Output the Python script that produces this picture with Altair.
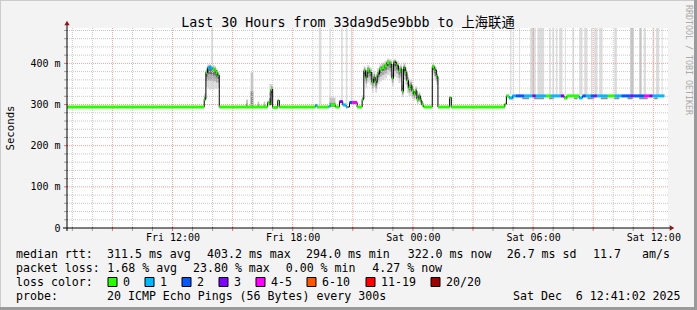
import altair as alt
import pandas as pd

# ---------------- data ----------------
med_time = [
    "2025-12-05T06:44", "2025-12-05T13:35", "2025-12-05T13:40", "2025-12-05T13:45", "2025-12-05T13:50",
    "2025-12-05T13:55", "2025-12-05T14:00", "2025-12-05T14:05", "2025-12-05T14:10", "2025-12-05T14:15",
    "2025-12-05T14:20", "2025-12-05T16:45", "2025-12-05T16:50", "2025-12-05T16:55", "2025-12-05T17:00",
    "2025-12-05T17:15", "2025-12-05T17:20", "2025-12-05T19:08", "2025-12-05T19:13", "2025-12-05T19:48",
    "2025-12-05T19:53", "2025-12-05T20:08", "2025-12-05T20:20", "2025-12-05T20:30", "2025-12-05T20:40",
    "2025-12-05T20:50", "2025-12-05T20:58", "2025-12-05T21:13", "2025-12-05T21:28", "2025-12-05T21:33",
    "2025-12-05T21:38", "2025-12-05T21:43", "2025-12-05T21:50", "2025-12-05T21:57", "2025-12-05T22:02",
    "2025-12-05T22:07", "2025-12-05T22:13", "2025-12-05T22:20", "2025-12-05T22:27", "2025-12-05T22:35",
    "2025-12-05T22:42", "2025-12-05T22:50", "2025-12-05T22:57", "2025-12-05T23:02", "2025-12-05T23:10",
    "2025-12-05T23:17", "2025-12-05T23:22", "2025-12-05T23:27", "2025-12-05T23:32", "2025-12-05T23:37",
    "2025-12-05T23:42", "2025-12-05T23:47", "2025-12-05T23:52", "2025-12-05T23:57", "2025-12-06T00:02",
    "2025-12-06T00:07", "2025-12-06T00:12", "2025-12-06T00:17", "2025-12-06T00:22", "2025-12-06T00:27",
    "2025-12-06T00:32", "2025-12-06T00:58", "2025-12-06T01:04", "2025-12-06T01:10", "2025-12-06T01:15",
    "2025-12-06T01:50", "2025-12-06T01:55", "2025-12-06T04:35", "2025-12-06T04:40", "2025-12-06T04:48",
    "2025-12-06T04:58", "2025-12-06T05:08", "2025-12-06T05:33", "2025-12-06T05:58", "2025-12-06T06:08",
    "2025-12-06T06:38", "2025-12-06T06:53", "2025-12-06T07:23", "2025-12-06T07:33", "2025-12-06T07:41",
    "2025-12-06T08:18", "2025-12-06T08:28", "2025-12-06T08:38", "2025-12-06T08:53", "2025-12-06T09:03",
    "2025-12-06T09:11", "2025-12-06T09:43", "2025-12-06T10:05", "2025-12-06T10:25", "2025-12-06T10:53",
    "2025-12-06T11:01", "2025-12-06T11:33", "2025-12-06T11:48", "2025-12-06T11:58",
]
med_end = "2025-12-06T12:33"
med_value = [
    294, 313, 378, 389, 391, 388, 386, 384, 378, 371,
    294, 305, 300, 337, 293, 310, 294, 298, 294, 296,
    299, 294, 307, 299, 294, 305, 305, 294, 313, 382,
    366, 384, 378, 354, 366, 354, 374, 386, 390, 394,
    402, 398, 364, 403, 394, 382, 386, 333, 390, 378,
    358, 341, 346, 333, 325, 333, 313, 321, 309, 299,
    294, 392, 384, 368, 294, 317, 294, 301, 321, 316,
    321, 321, 321, 321, 321, 321, 321, 321, 316, 321,
    316, 321, 321, 321, 321, 321, 321, 321, 321, 321,
    321, 321, 321, 321,
]
med_loss = [
    0, 0, 0, 1, 1, 1, 0, 0, 0, 0,
    0, 0, 0, 0, 0, 0, 0, 1, 0, 1,
    0, 0, 3, 1, 1, 2, 4, 0, 0, 0,
    0, 0, 0, 0, 0, 0, 0, 0, 0, 0,
    0, 0, 0, 0, 0, 0, 0, 0, 0, 0,
    0, 0, 0, 0, 0, 0, 0, 0, 0, 0,
    0, 0, 0, 0, 0, 0, 0, 0, 0, 1,
    1, 2, 1, 3, 1, 0, 1, 3, 0, 0,
    1, 2, 1, 2, 3, 1, 0, 1, 2, 3,
    2, 4, 3, 1,
]
# smoke spread below / above the median (ms)
smoke_dn = [
    0, 5, 35, 50, 55, 50, 50, 45, 40, 30,
    0, 0, 0, 30, 0, 0, 0, 0, 0, 0,
    0, 0, 0, 0, 0, 0, 0, 0, 5, 25,
    25, 30, 30, 25, 25, 25, 25, 30, 30, 30,
    30, 30, 20, 35, 30, 30, 30, 15, 30, 30,
    30, 20, 25, 20, 15, 20, 12, 15, 10, 5,
    0, 20, 25, 20, 0, 0, 0, 0, 0, 0,
    0, 0, 0, 0, 0, 0, 0, 0, 0, 0,
    0, 0, 0, 0, 0, 0, 0, 0, 0, 0,
    0, 0, 0, 0,
]
smoke_up = [
    0, 15, 12, 9, 7, 8, 10, 10, 10, 10,
    0, 5, 50, 13, 0, 0, 0, 0, 0, 0,
    0, 0, 0, 0, 0, 0, 0, 0, 10, 12,
    15, 12, 12, 15, 15, 15, 15, 12, 12, 12,
    10, 12, 20, 8, 12, 12, 12, 25, 12, 12,
    15, 15, 15, 15, 12, 12, 12, 10, 10, 8,
    0, 8, 10, 10, 0, 0, 0, 0, 0, 0,
    0, 0, 0, 0, 0, 0, 0, 0, 0, 0,
    0, 0, 0, 0, 0, 0, 0, 0, 0, 0,
    0, 0, 0, 0,
]

# isolated smoke patches
blob_start = ["2025-12-05T15:40", "2025-12-05T15:54", "2025-12-05T16:15", "2025-12-05T16:33", "2025-12-05T19:50",
              "2025-12-06T04:53", "2025-12-06T05:28", "2025-12-06T06:03", "2025-12-06T06:48", "2025-12-06T07:33",
              "2025-12-06T08:03", "2025-12-06T08:43", "2025-12-06T09:23", "2025-12-06T10:03", "2025-12-06T10:43",
              "2025-12-06T11:18", "2025-12-06T12:03"]
blob_end = ["2025-12-05T15:46", "2025-12-05T16:02", "2025-12-05T16:20", "2025-12-05T16:38", "2025-12-05T20:08",
            "2025-12-06T05:03", "2025-12-06T05:48", "2025-12-06T06:33", "2025-12-06T07:03", "2025-12-06T07:43",
            "2025-12-06T08:13", "2025-12-06T09:03", "2025-12-06T09:43", "2025-12-06T10:18", "2025-12-06T10:58",
            "2025-12-06T11:43", "2025-12-06T12:13"]
blob_lo = [294, 294, 294, 294, 294, 313, 313, 313, 313, 313, 313, 313, 313, 313, 313, 313, 313]
blob_hi = [312, 378, 307, 307, 317, 321, 321, 321, 321, 321, 321, 321, 321, 321, 321, 321, 321]

# columns of smoke running off the top of the graph
spike_start = ["2025-12-05T13:56", "2025-12-05T19:18", "2025-12-05T19:50", "2025-12-05T20:25", "2025-12-05T20:39",
               "2025-12-05T20:54", "2025-12-06T04:51", "2025-12-06T05:01", "2025-12-06T05:18", "2025-12-06T05:51",
               "2025-12-06T05:58", "2025-12-06T06:03", "2025-12-06T06:13", "2025-12-06T06:48", "2025-12-06T06:58",
               "2025-12-06T07:08", "2025-12-06T07:18", "2025-12-06T07:35", "2025-12-06T07:58", "2025-12-06T08:18",
               "2025-12-06T08:33", "2025-12-06T08:53", "2025-12-06T09:03", "2025-12-06T09:18", "2025-12-06T10:03",
               "2025-12-06T10:51", "2025-12-06T11:18", "2025-12-06T11:31", "2025-12-06T11:58", "2025-12-06T12:08",
               "2025-12-06T12:25"]
spike_end = ["2025-12-05T14:01", "2025-12-05T19:26", "2025-12-05T19:54", "2025-12-05T20:30", "2025-12-05T20:44",
             "2025-12-05T20:58", "2025-12-06T04:55", "2025-12-06T05:03", "2025-12-06T05:21", "2025-12-06T05:58",
             "2025-12-06T06:03", "2025-12-06T06:08", "2025-12-06T06:33", "2025-12-06T06:53", "2025-12-06T07:03",
             "2025-12-06T07:13", "2025-12-06T07:28", "2025-12-06T07:38", "2025-12-06T08:03", "2025-12-06T08:28",
             "2025-12-06T08:43", "2025-12-06T08:58", "2025-12-06T09:13", "2025-12-06T09:28", "2025-12-06T10:11",
             "2025-12-06T11:01", "2025-12-06T11:25", "2025-12-06T11:38", "2025-12-06T12:03", "2025-12-06T12:18",
             "2025-12-06T12:28"]
spike_base = [398, 300, 300, 305, 300, 305] + [323] * 25
spike_shade = [1, 1, 1, 1, 1, 1, 1, 1, 1, 1,
               2, 1, 1, 1, 1, 1, 1, 1, 1, 1,
               1, 1, 1, 1, 1, 2, 2, 1, 1, 1, 1]

loss_labels = ["0", "1", "2", "3", "4-5", "6-10", "11-19", "20/20"]
loss_colors = ["#26ff00", "#00b8ff", "#0059ff", "#7e00ff", "#ff00ff", "#ff5500", "#ff0000", "#a10000"]

y_ticks = [0, 100, 200, 300, 400]
x_ticks = ["2025-12-05T12:00", "2025-12-05T18:00", "2025-12-06T00:00", "2025-12-06T06:00", "2025-12-06T12:00"]
x_start, x_stop = "2025-12-05T06:44", "2025-12-06T12:44"
y_top = 486

title_text = "Last 30 Hours from 33da9d5e9bbb to 上海联通"
y_title = "Seconds"
side_text = "RRDTOOL / TOBI OETIKER"
row1 = ["median rtt:", "311.5 ms avg", "403.2 ms max", "294.0 ms min", "322.0 ms now", "26.7 ms sd", "11.7", "am/s"]
row2 = ["packet loss:", "1.68 % avg", "23.80 % max", "0.00 % min", "4.27 % now"]
row3 = ["loss color:"]
row4 = ["probe:", "20 ICMP Echo Pings (56 Bytes) every 300s", "Sat Dec  6 12:41:02 2025"]

# ---------------- layout / style ----------------
W, H = 601, 200
OX, OY = 67, 28            # plot origin on the canvas
MONO = "DejaVu Sans Mono, Noto Sans CJK SC, monospace"
FS = 11.6


def dt(s):
    t = pd.Timestamp(s)
    return alt.DateTime(year=t.year, month=t.month, date=t.day, hours=t.hour, minutes=t.minute)


xs = alt.Scale(domain=[dt(x_start), dt(x_stop)])
ys = alt.Scale(domain=[0, y_top], nice=False, zero=False)

x_axis = alt.Axis(values=[dt(s) for s in x_ticks], format="%a %H:%M", labelFont=MONO, labelFontSize=10,
                  labelColor="black", tickSize=0, domain=False, grid=False, title=None, labelPadding=4,
                  labelFlush=False, labelOverlap=False)
y_axis = alt.Axis(values=y_ticks, labelExpr="datum.value == 0 ? '0\u00a0\u00a0' : datum.value + '\u00a0m'",
                  labelFont=MONO, labelFontSize=10, labelColor="black", tickSize=0, domain=False, grid=False,
                  title=None, labelPadding=7, labelBaseline="middle")


def X(f):
    return alt.X(f"{f}:T", scale=xs, axis=x_axis)


def Y(f):
    return alt.Y(f"{f}:Q", scale=ys, axis=y_axis)


def C(f):
    return alt.Color(f"{f}:N", scale=None, legend=None)


# median table
med = pd.DataFrame({"t": med_time, "v": med_value, "loss": med_loss, "dn": smoke_dn, "up": smoke_up})
med["t_end"] = med["t"].shift(-1).fillna(med_end)
med["col"] = [loss_colors[i] for i in med_loss]
# where the median jumps quickly only a short coloured dash is drawn, so the thin black line shows between
ts, te = pd.to_datetime(med["t"]), pd.to_datetime(med["t_end"])
jump = (med["v"].shift(-1).fillna(med["v"]) - med["v"]).abs() > 8
short = ((te - ts) <= pd.Timedelta(minutes=10)) & jump
med["band_end"] = te.where(~short, ts + pd.Timedelta(minutes=3)).dt.strftime("%Y-%m-%dT%H:%M:%S")
line_df = pd.concat([med[["t", "v"]], pd.DataFrame({"t": [med_end], "v": [med_value[-1]]})], ignore_index=True)

smoke_shades = ["#d8d8d8", "#a8a8a8", "#6e6e6e"]
sm = med[(med.dn + med.up) > 0].copy()
bands = []
for frac, col in zip([1.0, 0.6, 0.3], smoke_shades):
    bands.append(pd.DataFrame({"t": sm.t, "t_end": sm.t_end,
                               "lo": sm.v - sm.dn * frac, "hi": sm.v + sm.up * frac, "col": col}))
smoke_df = pd.concat(bands, ignore_index=True)

blob = pd.DataFrame({"t": blob_start, "t_end": blob_end, "lo": blob_lo, "hi": blob_hi})
blob_dark = blob.copy()
blob_dark["hi"] = blob.lo + (blob.hi - blob.lo) * 0.45

spike_cols = {1: "#dcdcdc", 2: "#c4c4c4", 3: "#b0b0b0"}
spikes = pd.DataFrame({"t": spike_start, "t_end": spike_end, "lo": spike_base,
                       "col": [spike_cols[s] for s in spike_shade]})
spikes["hi"] = y_top

# grid positions
hours = pd.date_range("2025-12-05 07:00", "2025-12-06 12:00", freq="h")
vgrid = pd.DataFrame({"t": hours.strftime("%Y-%m-%dT%H:%M"), "major": (hours.hour % 3 == 0)})
hvals = list(range(20, 481, 20))
hgrid = pd.DataFrame({"v": hvals, "major": [v % 100 == 0 for v in hvals]})

GRAY, RED = "#c8c8c8", "#f2a0a0"
ONE = pd.DataFrame({"a": [0]})

layers = []

# spikes (light grey columns)
layers.append(alt.Chart(spikes).mark_rect().encode(x=X("t"), x2="t_end:T", y=Y("lo"), y2="hi:Q", color=C("col")))
# smoke around the median
layers.append(alt.Chart(smoke_df).mark_rect().encode(x=X("t"), x2="t_end:T", y=Y("lo"), y2="hi:Q", color=C("col")))
layers.append(alt.Chart(blob).mark_rect(color="#c4c4c4").encode(x=X("t"), x2="t_end:T", y=Y("lo"), y2="hi:Q"))
layers.append(alt.Chart(blob_dark).mark_rect(color="#8e8e8e").encode(x=X("t"), x2="t_end:T", y=Y("lo"), y2="hi:Q"))

# grid
layers.append(alt.Chart(vgrid).mark_rule(strokeDash=[1, 1], strokeWidth=1).encode(
    x=X("t"), y=alt.value(0), y2=alt.value(H),
    color=alt.condition("datum.major", alt.value(RED), alt.value(GRAY))))
layers.append(alt.Chart(hgrid).mark_rule(strokeDash=[1, 1], strokeWidth=1).encode(
    y=Y("v"), x=alt.value(0), x2=alt.value(W),
    color=alt.condition("datum.major", alt.value(RED), alt.value(GRAY))))
# small ticks outside the axes
layers.append(alt.Chart(vgrid).mark_rule(strokeWidth=1).encode(
    x=X("t"), y=alt.value(H - 1), y2=alt.value(H + 3),
    color=alt.condition("datum.major", alt.value("#f07070"), alt.value("#a0a0a0"))))
layers.append(alt.Chart(hgrid).mark_rule(strokeWidth=1).encode(
    y=Y("v"), x=alt.value(-3), x2=alt.value(1),
    color=alt.condition("datum.major", alt.value("#f07070"), alt.value("#a0a0a0"))))

# median: thin black connecting line + loss coloured bands
layers.append(alt.Chart(line_df).mark_line(interpolate="step-after", color="black", strokeWidth=1).encode(
    x=X("t"), y=Y("v")))
layers.append(alt.Chart(med).mark_rule(strokeWidth=3).encode(x=X("t"), x2="band_end:T", y=Y("v"), color=C("col")))

# axes lines and arrows
layers.append(alt.Chart(ONE).mark_rule(color="black", strokeWidth=1).encode(
    x=alt.value(-4), x2=alt.value(W + 2), y=alt.value(H)))
layers.append(alt.Chart(ONE).mark_rule(color="black", strokeWidth=1).encode(
    x=alt.value(0), y=alt.value(-4), y2=alt.value(H + 3)))
layers.append(alt.Chart(ONE).mark_point(shape="triangle-up", filled=True, size=28,
                                        color="#8b1a1a", opacity=1).encode(x=alt.value(0), y=alt.value(-5)))
layers.append(alt.Chart(ONE).mark_point(shape="triangle-right", filled=True, size=28,
                                        color="#8b1a1a", opacity=1).encode(x=alt.value(W + 4), y=alt.value(H)))


def txt(s, cx, cy, size=FS, align="left", angle=0, color="black", baseline="alphabetic"):
    s = s.replace("  ", "\u00a0\u00a0")
    return alt.Chart(ONE).mark_text(
        text=s, font=MONO, fontSize=size, align=align, baseline=baseline, angle=angle, color=color
    ).encode(x=alt.value(cx - OX), y=alt.value(cy - OY))


# titles
layers.append(txt(title_text, 348, 26.7, size=13.3, align="center"))
layers.append(txt(y_title, 11, 128, size=10.7, align="center", angle=270, baseline="middle"))
layers.append(txt(side_text, 687.5, 60, size=8.3, align="center", angle=90, color="#aaaaaa", baseline="middle"))

# statistics rows
row_y = [258, 272, 286, 300]
row1_x = [16, 107, 207, 306, 407.7, 506.7, 593, 642]
row2_x = [16, 107.3, 193, 285.7, 372.3]
row4_x = [16, 107, 513]
for s, px in zip(row1, row1_x):
    layers.append(txt(s, px, row_y[0]))
for s, px in zip(row2, row2_x):
    layers.append(txt(s, px, row_y[1]))
layers.append(txt(row3[0], 16, row_y[2]))
for s, px in zip(row4, row4_x):
    layers.append(txt(s, px, row_y[3]))

# loss colour legend
box_x = [108, 145, 182, 219, 256, 307, 366, 431]
for lab, col, bx in zip(loss_labels, loss_colors, box_x):
    layers.append(alt.Chart(ONE).mark_square(
        size=81, fill=col, stroke="black", strokeWidth=1, opacity=1).encode(
        x=alt.value(bx + 4.5 - OX), y=alt.value(282 - OY)))
    layers.append(txt(lab, bx + 15, row_y[2]))

# canvas shading frame
frame = [(-OX, 697 - OX, -OY, -OY + 1, "#cbcbcb"), (-OX, -OX + 1, -OY, 310 - OY, "#cbcbcb"),
         (697 - OX - 3, 697 - OX, -OY, 310 - OY, "#9a9a9a"), (-OX, 697 - OX, 310 - OY - 3, 310 - OY, "#9a9a9a")]
for x0, x1, y0, y1, c in frame:
    layers.append(alt.Chart(ONE).mark_rect(color=c).encode(
        x=alt.value(x0), x2=alt.value(x1), y=alt.value(y0), y2=alt.value(y1)))

chart = alt.layer(*layers).properties(
    width=W, height=H,
    padding={"left": OX, "top": OY, "right": 697 - OX - W, "bottom": 310 - OY - H},
    autosize=alt.AutoSizeParams(type="none"),
).configure(background="#f3f3f3").configure_view(stroke=None, fill="white")

chart.save("out.html", embed_options={"renderer": "svg", "actions": False})
